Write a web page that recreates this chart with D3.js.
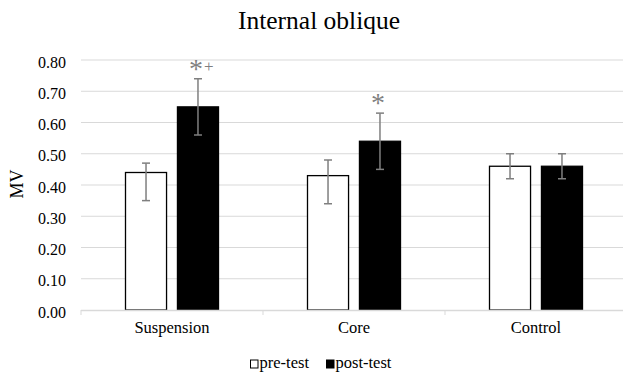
<!DOCTYPE html>
<html>
<head>
<meta charset="utf-8">
<script src="https://cdn.jsdelivr.net/npm/d3@7"></script>
<style>
  body { margin: 0; background: #fff; }
  svg text { font-family: "Liberation Serif", "DejaVu Serif", serif !important; }
</style>
</head>
<body>
<div id="chart"></div>
<script>
// Data
const categories = ["Suspension", "Core", "Control"];
const groups = ["pre-test", "post-test"];
const preValues = [0.44, 0.43, 0.46];
const postValues = [0.65, 0.54, 0.46];
const preErrLow = [0.35, 0.34, 0.42];
const preErrHigh = [0.47, 0.48, 0.50];
const postErrLow = [0.56, 0.45, 0.42];
const postErrHigh = [0.74, 0.63, 0.50];
const postMarks = ["*+", "*", ""];
const yTicks = [0, 0.1, 0.2, 0.3, 0.4, 0.5, 0.6, 0.7, 0.8];

const W = 623, H = 376;
const plotLeft = 81, plotTop = 60, plotBottom = 310;

const data = categories.flatMap((c, i) => [
  {cat: c, grp: "pre-test", v: preValues[i], lo: preErrLow[i], hi: preErrHigh[i], mark: ""},
  {cat: c, grp: "post-test", v: postValues[i], lo: postErrLow[i], hi: postErrHigh[i], mark: postMarks[i]}
]);

const svg = d3.select("#chart").append("svg")
    .attr("width", W)
    .attr("height", H);

// Scales
const x0 = d3.scaleBand()
    .domain(categories)
    .range([plotLeft, plotLeft + 3 * 182]);

const x1 = d3.scaleBand()
    .domain(groups)
    .range([44.5, 137.5])
    .paddingInner(0.21);

const y = d3.scaleLinear()
    .domain([0, 0.8])
    .range([plotBottom, plotTop]);

// Gridlines
svg.append("g")
    .selectAll("line")
    .data(yTicks.slice(1))
    .join("line")
    .attr("x1", plotLeft)
    .attr("x2", W)
    .attr("y1", d => y(d))
    .attr("y2", d => y(d))
    .attr("stroke", "#d9d9d9")
    .attr("stroke-width", 1);

// Y axis labels
svg.append("g")
    .attr("transform", `translate(${plotLeft},2)`)
    .call(d3.axisLeft(y).tickValues(yTicks).tickFormat(d3.format(".2f")).tickSize(0).tickPadding(15))
    .call(g => g.select(".domain").remove())
    .call(g => g.selectAll("text")
        .attr("font-size", 16)
        .attr("fill", "#000"));

svg.append("text")
    .attr("transform", "translate(23,184) rotate(-90)")
    .attr("text-anchor", "middle")
    .attr("font-size", 18)
    .text("MV");

// Bars
const bars = svg.append("g")
    .selectAll("g")
    .data(data)
    .join("g")
    .attr("transform", d => `translate(${x0(d.cat) + x1(d.grp)},0)`);

bars.append("rect")
    .attr("x", 0)
    .attr("width", x1.bandwidth())
    .attr("y", d => y(d.v))
    .attr("height", d => y(0) - y(d.v))
    .attr("fill", d => d.grp === "pre-test" ? "#fff" : "#000")
    .attr("stroke", "#000")
    .attr("stroke-width", 1.3);

// Error bars
const cx = x1.bandwidth() / 2;
bars.append("line")
    .attr("x1", cx).attr("x2", cx)
    .attr("y1", d => y(d.lo)).attr("y2", d => y(d.hi))
    .attr("stroke", "#7f7f7f").attr("stroke-width", 1.5);
bars.selectAll(".cap")
    .data(d => [d.lo, d.hi])
    .join("line")
    .attr("class", "cap")
    .attr("x1", cx - 4).attr("x2", cx + 4)
    .attr("y1", d => y(d)).attr("y2", d => y(d))
    .attr("stroke", "#7f7f7f").attr("stroke-width", 1.5);

// Significance marks
const marks = bars.filter(d => d.mark).append("text")
    .attr("x", cx - 9)
    .attr("y", d => y(d.hi) - 1)
    .attr("fill", "#7f7f7f")
    .attr("text-anchor", "start");
marks.append("tspan")
    .attr("font-size", 28)
    .text(d => d.mark[0]);
marks.append("tspan")
    .attr("font-size", 17)
    .attr("dx", 1)
    .attr("dy", -6)
    .text(d => d.mark.slice(1));

// X axis
svg.append("line")
    .attr("x1", plotLeft).attr("x2", W)
    .attr("y1", plotBottom + 0.5).attr("y2", plotBottom + 0.5)
    .attr("stroke", "#d9d9d9").attr("stroke-width", 1.5);

svg.append("g")
    .selectAll("line")
    .data(categories)
    .join("line")
    .attr("x1", d => x0(d)).attr("x2", d => x0(d))
    .attr("y1", plotBottom).attr("y2", plotBottom + 5)
    .attr("stroke", "#d9d9d9");

svg.append("g")
    .selectAll("text")
    .data(categories)
    .join("text")
    .attr("x", d => x0(d) + x0.bandwidth() / 2)
    .attr("y", 333)
    .attr("text-anchor", "middle")
    .attr("font-size", 16.5)
    .text(d => d);

// Title
svg.append("text")
    .attr("x", 319)
    .attr("y", 29)
    .attr("text-anchor", "middle")
    .attr("font-size", 25.5)
    .text("Internal oblique");

// Legend
const legend = svg.append("g")
    .attr("transform", "translate(250,368)");
const li = legend.selectAll("g")
    .data(groups)
    .join("g")
    .attr("transform", (d, i) => `translate(${i * 76},0)`);
li.append("rect")
    .attr("x", 0.5).attr("y", -8)
    .attr("width", 7.5).attr("height", 8)
    .attr("fill", (d, i) => i ? "#000" : "#fff")
    .attr("stroke", "#000").attr("stroke-width", 1);
li.append("text")
    .attr("x", 9.5)
    .attr("y", 0)
    .attr("font-size", 16.5)
    .text(d => d);
</script>
</body>
</html>
